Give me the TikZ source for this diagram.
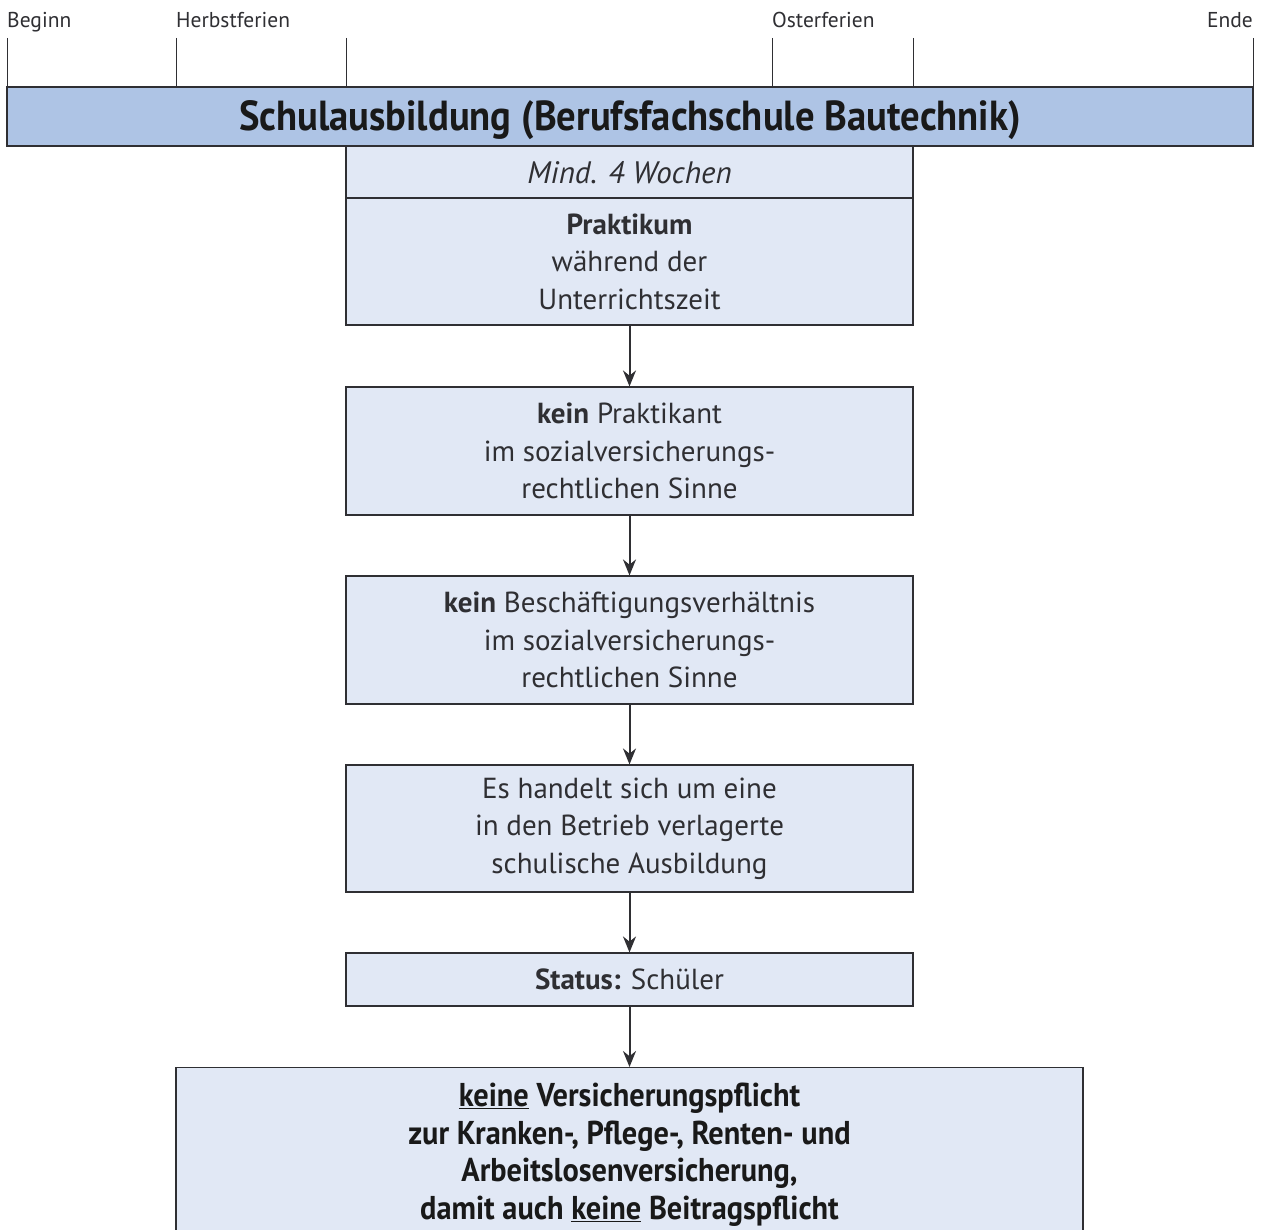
\documentclass[tikz,border=0pt]{standalone}
\usepackage{fontspec}
\setmainfont{PT Sans}
\newfontfamily\condfont[FakeStretch=0.92]{PT Sans}
\usetikzlibrary{arrows.meta}
\definecolor{barblue}{HTML}{AEC4E5}
\definecolor{boxblue}{HTML}{E1E8F5}
\definecolor{linec}{HTML}{2F2F33}
\tikzset{
  tick/.style={draw=linec, line width=1pt},
  lbl/.style={inner sep=0pt, font=\fontsize{21.5}{24}\selectfont, text=linec},
  sbox/.style={draw=linec, line width=1.1pt, fill=boxblue, inner sep=0pt, align=center,
     text=linec, font=\fontsize{29}{37.5}\selectfont, minimum width=567pt},
  conn/.style={draw=linec, line width=2pt, -{Stealth[length=16pt,width=13pt]}},
}
\begin{document}
\begin{tikzpicture}[x=1pt,y=-1pt]
\useasboundingbox (0,0) rectangle (1263,1230);
\clip (0,0) rectangle (1263,1230);
% top labels
\node[lbl, anchor=base west] (lb) at (7,28) {Beginn};
\node[lbl, anchor=base west] (lh) at (176,28) {Herbstferien};
\node[lbl, anchor=base west] (lo) at (772,28) {Osterferien};
\node[lbl, anchor=base east] (le) at (1253,28) {Ende};
% ticks
\foreach \xx/\nm in {7/ta,176/tb,346/tc,772/td,913/te,1253/tf}{
  \coordinate (\nm) at (\xx,38);
  \draw[tick] (\nm) -- (\xx,87);
}
% main bar
\node[draw=linec, line width=1.1pt, fill=barblue, minimum width=1246pt, minimum height=59pt, inner sep=0pt] (bar) at (630,116.5) {};
\node[inner sep=0pt, anchor=base, font=\condfont\bfseries\fontsize{42}{48}\selectfont, text=black!90] (title) at (630,131)
  {Schulausbildung (Berufsfachschule Bautechnik)};
% boxes
\node[sbox, minimum height=52pt] (mind) at (629.5,172) {};
\node[inner sep=0pt, anchor=base, text=linec, font=\itshape\fontsize{31}{37.5}\selectfont] (mindt) at (629.5,184) {Mind. 4 Wochen};
\node[sbox, minimum height=127pt] (b1) at (629.5,261.5) {\textbf{Praktikum}\\während der\\Unterrichtszeit};
\node[sbox, minimum height=128pt] (b2) at (629.5,451) {\textbf{kein} Praktikant\\im sozialversicherungs-\\rechtlichen Sinne};
\node[sbox, minimum height=128pt] (b3) at (629.5,640) {\textbf{kein} Beschäftigungsverhältnis\\im sozialversicherungs-\\rechtlichen Sinne};
\node[sbox, minimum height=127pt] (b4) at (629.5,828.5) {Es handelt sich um eine\\in den Betrieb verlagerte\\schulische Ausbildung};
\node[sbox, minimum height=53pt] (b5) at (629.5,979.5) {\textbf{Status:} Schüler};
% bottom box (cut off)
\node[sbox, minimum width=907pt, minimum height=200pt, anchor=north] (b6) at (629.5,1067) {};
\node[inner sep=0pt, align=center, text=black!90, anchor=north,
  font=\condfont\bfseries\fontsize{33}{37.5}\selectfont] (t6) at (629.5,1083)
  {\underline{keine} Versicherungspflicht\\zur Kranken-, Pflege-, Renten- und\\Arbeitslosenversicherung,\\damit auch \underline{keine} Beitragspflicht};
% arrows
\draw[conn] (b1.south) -- (b2.north);
\draw[conn] (b2.south) -- (b3.north);
\draw[conn] (b3.south) -- (b4.north);
\draw[conn] (b4.south) -- (b5.north);
\draw[conn] (b5.south) -- (b6.north);
\end{tikzpicture}
\end{document}
